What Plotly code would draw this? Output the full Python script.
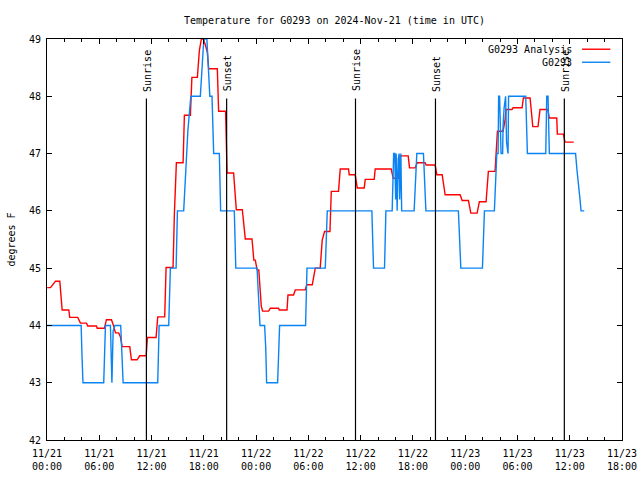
import pandas as pd
import plotly.graph_objects as go

BASE = pd.Timestamp("2024-11-21 00:00")

# G0293 Analysis (red) : hours since 11/21 00:00 UTC, degrees F
analysis_hours = [0.02, 0.40, 0.97, 1.47, 1.74, 2.50, 2.61, 3.53, 3.84, 4.53, 4.68, 5.68, 5.76, 6.59,
                  6.82, 7.40, 7.63, 7.86, 8.23, 8.43, 8.62, 9.50, 9.69, 10.34, 10.64, 11.38, 11.53, 12.52,
                  12.71, 13.51, 13.67, 14.47, 14.62, 14.74, 14.85, 15.62, 15.77, 16.46, 16.63, 17.26,
                  17.49, 17.72, 17.95, 18.17, 18.40, 18.56, 19.55, 19.70, 20.50, 20.67, 21.42, 21.73,
                  22.42, 22.76, 23.53, 23.74, 23.91, 24.11, 24.31, 24.60, 24.75, 25.44, 25.63, 26.58,
                  26.66, 27.55, 27.66, 28.30, 28.50, 29.64, 29.82, 30.45, 30.79, 31.36, 31.59, 31.86,
                  32.48, 32.63, 33.46, 33.66, 34.61, 34.69, 35.38, 35.61, 36.41, 36.53, 37.56, 37.67,
                  39.51, 39.74, 40.31, 40.54, 41.46, 41.61, 42.26, 42.49, 43.41, 43.52, 44.55, 44.75,
                  45.36, 45.70, 47.42, 47.65, 48.37, 48.65, 49.37, 49.63, 50.40, 50.66, 51.43, 51.70,
                  52.35, 52.58, 52.69, 53.38, 53.50, 54.53, 54.68, 55.45, 55.76, 56.36, 56.59, 57.48,
                  57.66, 58.51, 58.58, 59.27, 59.46, 60.46]
analysis_temp = [44.66, 44.66, 44.77, 44.77, 44.27, 44.27, 44.14, 44.14, 44.04, 44.04, 43.99, 43.99, 43.95, 43.95,
                 44.10, 44.10, 44.00, 43.87, 43.87, 43.80, 43.63, 43.63, 43.40, 43.40, 43.47, 43.47, 43.79, 43.79,
                 44.15, 44.15, 45.01, 45.01, 45.94, 46.52, 46.84, 46.84, 47.67, 47.67, 48.33, 48.33,
                 48.80, 49.00, 49.00, 48.90, 48.77, 48.48, 48.48, 47.74, 47.74, 46.66, 46.66, 46.02,
                 46.02, 45.51, 45.51, 45.14, 45.14, 44.97, 44.97, 44.33, 44.25, 44.25, 44.30, 44.30,
                 44.27, 44.27, 44.53, 44.53, 44.62, 44.62, 44.71, 44.71, 45.00, 45.00, 45.49, 45.64,
                 45.64, 46.34, 46.34, 46.73, 46.73, 46.63, 46.63, 46.40, 46.40, 46.55, 46.55, 46.73,
                 46.73, 46.57, 46.57, 46.96, 46.96, 46.75, 46.75, 46.84, 46.84, 46.80, 46.80, 46.63,
                 46.63, 46.28, 46.28, 46.18, 46.18, 45.96, 45.96, 46.16, 46.16, 46.69, 46.69, 47.39,
                 47.39, 47.59, 47.77, 47.77, 47.80, 47.80, 47.97, 47.97, 47.47, 47.47, 47.77, 47.77,
                 47.62, 47.62, 47.34, 47.34, 47.20, 47.20]

# G0293 observations (blue)
obs_hours = [0.02, 3.92, 4.01, 4.13, 6.51, 6.63, 6.71, 7.28, 7.45, 7.59, 7.80, 8.46, 8.60, 8.74,
             12.71, 12.79, 12.87, 13.97, 14.05, 14.16, 14.82, 14.97, 15.69, 15.77, 16.00, 16.17, 16.34,
             16.51, 17.60, 17.83, 18.00, 18.35, 18.52, 18.69, 18.94, 19.13, 19.78, 19.93, 21.50, 21.67,
             24.11, 24.26, 24.45, 24.98, 25.11, 25.21, 26.47, 26.61, 26.70, 29.68, 29.84, 31.94, 32.17,
             37.29, 37.48, 38.74, 38.90, 39.62, 39.68, 39.79, 39.91, 39.97, 40.02, 40.08, 40.14, 40.19,
             40.31, 40.42, 40.48, 40.54, 40.62, 40.71, 42.14, 42.45, 43.21, 43.49, 47.22, 47.36, 47.50,
             49.98, 50.09, 50.21, 51.35, 51.49, 51.63, 51.78, 51.84, 51.95, 52.01, 52.12, 52.30, 52.35,
             52.47, 52.58, 52.64, 52.75, 52.87, 52.92, 52.98, 54.95, 55.14, 57.25, 57.36, 57.51, 57.66,
             60.67, 60.84, 61.01, 61.18, 61.30, 61.67]
obs_temp = [44, 44, 43.5, 43, 43, 43.6, 44, 44, 43, 43.9, 44, 44, 43.5, 43,
            43, 43.6, 44, 44, 44.6, 45, 45, 46, 46, 46.3, 46.9, 47.4, 47.8,
            48, 48, 48.6, 49, 49, 48.5, 48, 48, 47, 47, 46, 46, 45,
            45, 44.5, 44, 44, 43.6, 43, 43, 43.6, 44, 44, 45, 45, 46,
            46, 45, 45, 46, 46, 46.25, 47, 47, 46.3, 46.2, 47, 46.5, 46,
            46.9, 47, 46.2, 47, 47, 46, 46, 47, 47, 46, 46, 45.5, 45,
            45, 45.5, 46, 46, 46.5, 47, 47, 48, 48, 47.3, 47, 47, 47.5,
            47.8, 48, 48, 47.2, 47, 47, 48, 48, 47, 47, 48, 48, 47,
            47, 46.7, 46.5, 46.2, 46, 46]

# Sun events (hours since 11/21 00:00 UTC)
sun_hours = [11.41, 20.62, 35.41, 44.59, 59.38]
sun_labels = ["Sunrise", "Sunset", "Sunrise", "Sunset", "Sunrise"]
sun_line_top = 47.96

tick_hours = [0, 6, 12, 18, 24, 30, 36, 42, 48, 54, 60, 66]
tick_text = ["11/21<br>00:00", "11/21<br>06:00", "11/21<br>12:00", "11/21<br>18:00",
             "11/22<br>00:00", "11/22<br>06:00", "11/22<br>12:00", "11/22<br>18:00",
             "11/23<br>00:00", "11/23<br>06:00", "11/23<br>12:00", "11/23<br>18:00"]


def to_time(hours):
    return [BASE + pd.to_timedelta(h, unit="h") for h in hours]


FONT = "DejaVu Sans Mono"
RED = "#ff0000"
BLUE = "#0a84f5"

fig = go.Figure()
fig.add_trace(go.Scatter(x=to_time(analysis_hours), y=analysis_temp, mode="lines",
                         line=dict(color=RED, width=1.4), name="G0293 Analysis", showlegend=False))
fig.add_trace(go.Scatter(x=to_time(obs_hours), y=obs_temp, mode="lines",
                         line=dict(color=BLUE, width=1.4), name="G0293", showlegend=False))

for h, lab in zip(to_time(sun_hours), sun_labels):
    fig.add_shape(type="line", xref="x", yref="y", x0=h, x1=h, y0=42, y1=sun_line_top,
                  line=dict(color="black", width=1.2), layer="above")
    fig.add_annotation(x=h, y=sun_line_top, xref="x", yref="y", text=lab, textangle=-90,
                       showarrow=False, xanchor="center", yanchor="bottom", yshift=5, xshift=1,
                       font=dict(family=FONT, size=10, color="black"))

# Legend drawn gnuplot style (text on the left, sample on the right)
legend_names = ["G0293 Analysis", "G0293"]
legend_colors = [RED, BLUE]
for i, (nm, col) in enumerate(zip(legend_names, legend_colors)):
    yp = 0.9745 - i * 0.0325
    fig.add_annotation(x=0.917, y=yp, xref="paper", yref="paper", text=nm, showarrow=False,
                       xanchor="right", yanchor="middle", font=dict(family=FONT, size=10, color="black"))
    fig.add_shape(type="line", xref="paper", yref="paper", x0=0.9305, x1=0.9797, y0=yp, y1=yp,
                  line=dict(color=col, width=1.4))

fig.update_layout(
    width=640, height=480,
    margin=dict(l=47, r=18, t=39, b=40, autoexpand=False),
    paper_bgcolor="white", plot_bgcolor="white",
    font=dict(family=FONT, size=10, color="black"),
    title=dict(text="Temperature for G0293 on 2024-Nov-21 (time in UTC)", x=0.5, xref="paper",
               y=1 - 20 / 480, yref="container", yanchor="middle", xanchor="center",
               font=dict(family=FONT, size=10, color="black")),
    showlegend=False,
)
fig.update_xaxes(range=[BASE, BASE + pd.to_timedelta(66, unit="h")], automargin=False,
                 tickvals=to_time(tick_hours), ticktext=tick_text, ticklabelstandoff=4,
                 ticks="inside", ticklen=5, tickcolor="black", showline=True, linecolor="black",
                 linewidth=1, mirror="ticks", showgrid=False, zeroline=False,
                 minor=dict(dtick=2 * 3600 * 1000, ticks="inside", ticklen=3, tickcolor="black", showgrid=False),
                 tickfont=dict(family=FONT, size=10))
fig.update_yaxes(range=[42, 49], dtick=1, ticks="inside", ticklen=5, tickcolor="black", automargin=False,
                 showline=True, linecolor="black", linewidth=1, mirror="ticks", ticklabelstandoff=3,
                 showgrid=False, zeroline=False, tickfont=dict(family=FONT, size=10),
                 title=dict(text="degrees F", standoff=11, font=dict(family=FONT, size=10)))

fig.write_html("out.html", config={"displayModeBar": False},
               post_script="document.body.style.margin='0';document.body.style.overflow='hidden';")
